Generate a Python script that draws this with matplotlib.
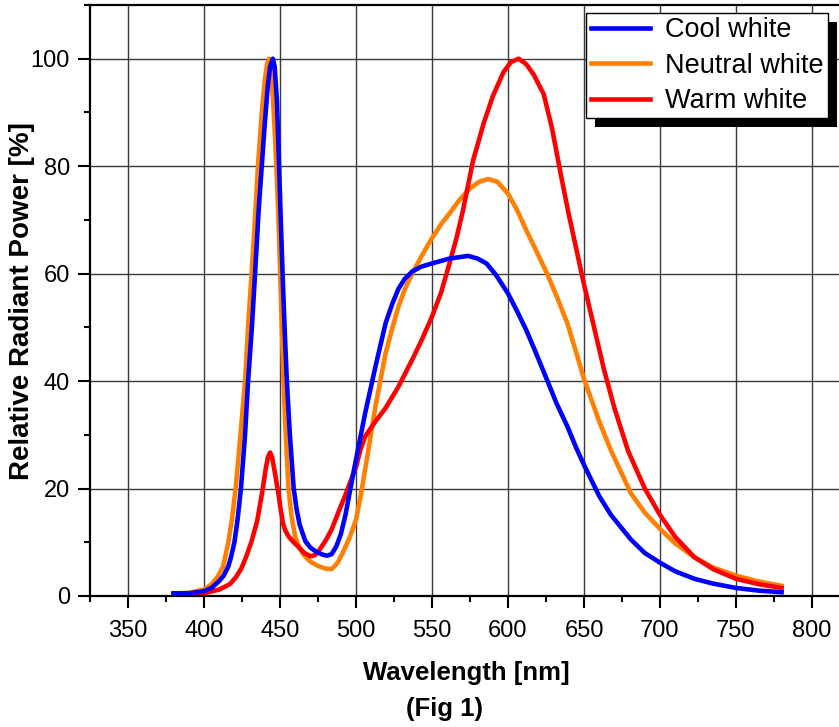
import matplotlib
matplotlib.use('Agg')
import matplotlib.pyplot as plt
from matplotlib.ticker import MultipleLocator
from matplotlib.patches import Rectangle

plt.rcParams['font.family'] = ['Liberation Sans', 'DejaVu Sans']

# Cool white (nm, %)
cool_x = [380, 390, 400, 405, 410, 413, 416, 418, 420, 422, 424.3, 427, 429, 431.5,
          433.6, 436, 438, 440, 442, 443.5, 445.3, 446.5, 448, 449.4, 450.5, 451.7,
          453, 454.5, 456.5, 459, 461, 463, 466.7, 470, 474, 478, 481, 484, 487, 490,
          493, 496, 500, 506, 512.8, 519.5, 524, 528, 532, 537, 543, 550, 561.5, 573.7,
          580, 585.8, 592, 600, 606, 612, 618, 625.7, 632, 639, 645, 650, 660, 667.7,
          680.9, 690, 700, 710, 722.7, 735, 750, 765, 780]
cool_y = [0.5, 0.5, 0.9, 1.5, 2.8, 3.8, 5.5, 7.5, 10, 14, 20, 30, 40, 50,
          60, 72, 80, 88, 95, 98.5, 100, 98.5, 92, 80, 70, 60,
          50, 40, 30, 20, 16, 13.2, 10.2, 9, 8.2, 7.7, 7.5, 7.8, 9.2, 11.5,
          15, 19.5, 25.4, 34, 42.7, 50.8, 54.5, 57.2, 59.0, 60.4, 61.3, 61.9, 62.8, 63.3,
          62.8, 61.9, 59.8, 56.3, 53, 49.5, 45.5, 40.2, 35.8, 31.6, 27.5, 24.4, 18.6, 15.1,
          10.5, 8, 6.2, 4.6, 3.2, 2.3, 1.5, 1.0, 0.7]

# Neutral white
neutral_x = [380, 390, 400, 405, 409, 412.6, 416, 418.5, 420.8, 424, 427, 429, 431.3,
             433.5, 435.5, 438, 440, 441.5, 442.8, 444, 445.5, 446.8, 447.9, 449, 450.1,
             451.2, 452.3, 453.8, 455.6, 457.5, 460, 463, 466, 470, 475, 480, 484, 488,
             492, 496, 500, 503, 506, 512.8, 519.5, 524, 528, 532, 537, 543, 550, 556,
             561.5, 568, 574.8, 581, 587, 593, 600, 606, 612, 619, 625.7, 632, 639, 645,
             650, 660, 667.7, 680.9, 690, 700, 710, 722.7, 735, 750, 765, 780]
neutral_y = [0.5, 0.6, 1.2, 2.2, 3.6, 5.5, 10, 14.5, 20, 30, 40, 50, 60,
             70, 80, 90, 96, 99, 100, 98.5, 92, 85, 78, 70, 60,
             50, 40, 30, 20, 15, 11, 8.8, 7.5, 6.4, 5.6, 5.1, 5.0, 6.2,
             8.5, 11, 14.2, 18.5, 23.5, 35.3, 45.2, 50, 53.9, 57, 60, 63.2, 66.6, 69.2,
             71.2, 73.7, 75.8, 77.1, 77.6, 77.1, 74.9, 71.8, 68.1, 64, 60, 55.8, 50.8, 45.2,
             40.4, 32.5, 27.1, 19.1, 15.5, 12.5, 9.8, 7.2, 5.3, 3.8, 2.7, 1.9]

# Warm white
warm_x = [380, 390, 400, 410, 417, 421, 424.7, 428, 431.3, 435, 438.4, 440.5, 442,
          443.5, 444.8, 446, 447.5, 449, 450.5, 452, 453.5, 455.6, 459, 462, 466, 470,
          473, 476, 480, 484, 488.7, 493, 497, 500, 503, 506, 512.8, 519.5, 528, 537,
          543, 550, 556, 561.5, 566, 570.4, 577, 584, 590, 597, 602, 607, 612, 617,
          623.5, 629, 634.5, 640, 645, 650, 663, 670, 679, 690, 700, 710, 722.7, 735,
          750, 765, 780]
warm_y = [0.3, 0.3, 0.5, 1.2, 2.2, 3.5, 5.2, 7.5, 10.2, 14, 19.5, 23.5, 25.8,
          26.7, 25.8, 24, 21.5, 19, 16, 13.5, 12.2, 11.1, 10, 9.2, 8, 7.4,
          7.6, 8.6, 10.3, 12.4, 15.8, 18.8, 21.8, 24, 27.3, 29.7, 32.5, 35, 39, 44,
          47.5, 52, 56.5, 61.9, 66.5, 71.8, 81, 88, 93, 97.5, 99.4, 100, 99, 97,
          93.4, 87, 78.8, 71, 64.5, 58, 42.3, 35, 27, 20, 15.1, 11, 7.2, 5,
          3.2, 2.2, 1.5]

fig = plt.figure(figsize=(8.39, 7.27), dpi=100)
ax = fig.add_axes([90/839, 131/727, 760/839, 591/727])

ax.plot(cool_x, cool_y, color='#0000ff', lw=3.3, label='Cool white', zorder=3)
ax.plot(neutral_x, neutral_y, color='#ff8000', lw=3.3, label='Neutral white', zorder=2)
ax.plot(warm_x, warm_y, color='#ff0000', lw=3.3, label='Warm white', zorder=2.5)

ax.set_xlim(325, 825)
ax.set_ylim(0, 110)
ax.xaxis.set_major_locator(MultipleLocator(50))
ax.xaxis.set_minor_locator(MultipleLocator(25))
ax.yaxis.set_major_locator(MultipleLocator(20))
ax.yaxis.set_minor_locator(MultipleLocator(10))
ax.grid(True, which='major', color='#3a3a3a', lw=1.0)
ax.set_axisbelow(True)

for s in ax.spines.values():
    s.set_linewidth(1.6)
ax.tick_params(which='major', direction='out', length=8.5, width=1.5,
               labelsize=17, top=False, right=False)
ax.tick_params(axis='x', which='major', pad=9)
ax.tick_params(axis='y', which='major', pad=6)
ax.tick_params(which='minor', direction='out', length=4.5, width=1.5, top=False, right=False)

fig.text(22/839, 1 - 301/727, 'Relative Radiant Power [%]', rotation=90,
         ha='center', va='center', fontsize=20, fontweight='bold')
fig.text(466/839, 1 - 673/727, 'Wavelength [nm]', ha='center', va='center',
         fontsize=18.5, fontweight='bold')
fig.text(444/839, 1 - 709/727, '(Fig 1)', ha='center', va='center',
         fontsize=18.5, fontweight='bold')

leg = ax.legend(loc='upper right', bbox_to_anchor=((827.7 - 90) / 760, 1 - 8.3 / 591),
                borderaxespad=0, fontsize=19.5, fancybox=False, framealpha=1,
                edgecolor='black', handlelength=2.2, handletextpad=0.55,
                labelspacing=0.35, borderpad=0.15)
leg.get_frame().set_linewidth(1.0)
leg.set_zorder(6)

# black drop shadow behind the legend
fig.canvas.draw()
bb = leg.get_window_extent().transformed(ax.transAxes.inverted())
ax.add_patch(Rectangle((bb.x0 + 9 / 760, bb.y0 - 9 / 591), bb.width, bb.height,
                       transform=ax.transAxes, facecolor='black', edgecolor='none',
                       zorder=5.5, clip_on=False))

fig.savefig('out.png', dpi=100)
